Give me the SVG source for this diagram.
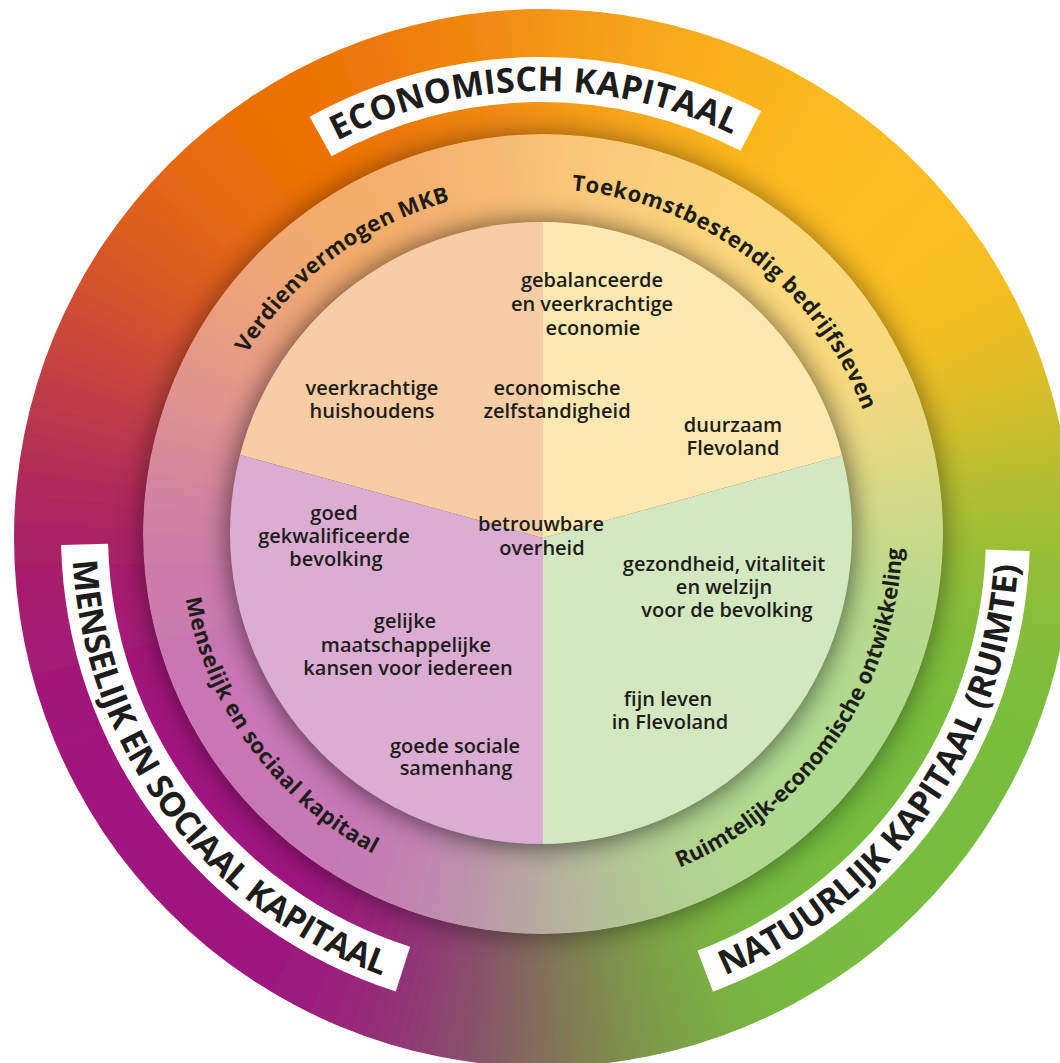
<svg xmlns="http://www.w3.org/2000/svg" width="1060" height="1063" viewBox="0 0 1060 1063">
<defs>
<style>
.t{font-family:"Open Sans","Noto Sans",sans-serif;font-weight:600;font-size:20px;fill:#1d1d1b;text-anchor:middle}
.rl{font-family:"Open Sans","Noto Sans",sans-serif;font-weight:700;font-size:22px;fill:#1d1d1b;text-anchor:middle}
.cap{font-family:"Open Sans","Noto Sans",sans-serif;font-weight:700;font-size:34px;fill:#1d1d1b;text-anchor:middle}
.box{fill:#ffffff}
</style>
<filter id="soft" filterUnits="userSpaceOnUse" x="-300" y="-300" width="1660" height="1663"><feGaussianBlur stdDeviation="40"/></filter>
<filter id="sh" filterUnits="userSpaceOnUse" x="-100" y="-100" width="1260" height="1263"><feGaussianBlur stdDeviation="13"/></filter>
<clipPath id="cOuter"><circle cx="543" cy="538" r="529"/></clipPath>
<clipPath id="cMid"><circle cx="543" cy="534" r="400"/></clipPath>
<clipPath id="cIn"><circle cx="541" cy="533" r="311"/></clipPath>
<g id="wedges" transform="translate(542,536)">
<circle r="900" fill="#C07040"/>
<polygon points="0,0 0,-900 117.5,-892.3" fill="#F59B17"/>
<polygon points="0,0 117.5,-892.3 232.9,-869.3" fill="#F7A61A"/>
<polygon points="0,0 232.9,-869.3 344.4,-831.5" fill="#F9AE1D"/>
<polygon points="0,0 344.4,-831.5 450,-779.4" fill="#FBB51F"/>
<polygon points="0,0 450,-779.4 547.9,-714" fill="#FCBA21"/>
<polygon points="0,0 547.9,-714 636.4,-636.4" fill="#FDBE23"/>
<polygon points="0,0 636.4,-636.4 714,-547.9" fill="#FCBF24"/>
<polygon points="0,0 714,-547.9 779.4,-450" fill="#F9BF24"/>
<polygon points="0,0 779.4,-450 831.5,-344.4" fill="#F2BE24"/>
<polygon points="0,0 831.5,-344.4 869.3,-232.9" fill="#E0BD27"/>
<polygon points="0,0 869.3,-232.9 892.3,-117.5" fill="#C3BE2D"/>
<polygon points="0,0 892.3,-117.5 900,0" fill="#A9BE33"/>
<polygon points="0,0 900,0 892.3,117.5" fill="#92BE38"/>
<polygon points="0,0 892.3,117.5 869.3,232.9" fill="#83BE3B"/>
<polygon points="0,0 869.3,232.9 831.5,344.4" fill="#7CBD3D"/>
<polygon points="0,0 831.5,344.4 779.4,450" fill="#78BD3E"/>
<polygon points="0,0 779.4,450 714,547.9" fill="#77BD3F"/>
<polygon points="0,0 714,547.9 636.4,636.4" fill="#76BD3F"/>
<polygon points="0,0 636.4,636.4 547.9,714" fill="#76BD3F"/>
<polygon points="0,0 547.9,714 450,779.4" fill="#77BB3F"/>
<polygon points="0,0 450,779.4 344.4,831.5" fill="#78B83F"/>
<polygon points="0,0 344.4,831.5 232.9,869.3" fill="#7AAB42"/>
<polygon points="0,0 232.9,869.3 117.5,892.3" fill="#7D9548"/>
<polygon points="0,0 117.5,892.3 0,900" fill="#817C53"/>
<polygon points="0,0 0,900 -117.5,892.3" fill="#845F62"/>
<polygon points="0,0 -117.5,892.3 -232.9,869.3" fill="#8A436F"/>
<polygon points="0,0 -232.9,869.3 -344.4,831.5" fill="#952A78"/>
<polygon points="0,0 -344.4,831.5 -450,779.4" fill="#9B1C7D"/>
<polygon points="0,0 -450,779.4 -547.9,714" fill="#9D197E"/>
<polygon points="0,0 -547.9,714 -636.4,636.4" fill="#9F187F"/>
<polygon points="0,0 -636.4,636.4 -714,547.9" fill="#A0187F"/>
<polygon points="0,0 -714,547.9 -779.4,450" fill="#A0187F"/>
<polygon points="0,0 -779.4,450 -831.5,344.4" fill="#A1187E"/>
<polygon points="0,0 -831.5,344.4 -869.3,232.9" fill="#A2197A"/>
<polygon points="0,0 -869.3,232.9 -892.3,117.5" fill="#A41A73"/>
<polygon points="0,0 -892.3,117.5 -900,0" fill="#A81F6A"/>
<polygon points="0,0 -900,0 -892.3,-117.5" fill="#AD275E"/>
<polygon points="0,0 -892.3,-117.5 -869.3,-232.9" fill="#B63251"/>
<polygon points="0,0 -869.3,-232.9 -831.5,-344.4" fill="#C34042"/>
<polygon points="0,0 -831.5,-344.4 -779.4,-450" fill="#CF4D32"/>
<polygon points="0,0 -779.4,-450 -714,-547.9" fill="#DA5921"/>
<polygon points="0,0 -714,-547.9 -636.4,-636.4" fill="#E26313"/>
<polygon points="0,0 -636.4,-636.4 -547.9,-714" fill="#E86C0A"/>
<polygon points="0,0 -547.9,-714 -450,-779.4" fill="#EB7105"/>
<polygon points="0,0 -450,-779.4 -344.4,-831.5" fill="#EC7305"/>
<polygon points="0,0 -344.4,-831.5 -232.9,-869.3" fill="#ED7908"/>
<polygon points="0,0 -232.9,-869.3 -117.5,-892.3" fill="#EF820D"/>
<polygon points="0,0 -117.5,-892.3 0,-900" fill="#F28E12"/>
</g>
<path id="pEcon" d="M-443,0 A443,443 0 0 1 443,0"/>
<path id="pMens" d="M-406.2,-234.5 A469,469 0 0 0 234.5,406.2"/>
<path id="pNat" d="M-239,414 A478,478 0 0 0 414,-239"/>
<path id="pTop" d="M-345,0 A345,345 0 0 1 345,0"/>
<path id="pLeft" d="M-181,-313.5 A362,362 0 0 0 181,313.5"/>
<path id="pRight" d="M-181,313.5 A362,362 0 0 0 181,-313.5"/>
</defs>

<g id="outer-ring" clip-path="url(#cOuter)">
<g filter="url(#soft)"><use href="#wedges"/></g>
<circle cx="543" cy="535" r="402" fill="#000" opacity="0.42" filter="url(#sh)"/>
</g>

<g id="middle-ring" clip-path="url(#cMid)">
<g filter="url(#soft)"><use href="#wedges"/></g>
<circle cx="543" cy="534" r="400" fill="#fff" opacity="0.42"/>
<circle cx="541" cy="534" r="313" fill="#000" opacity="0.55" filter="url(#sh)"/>
</g>

<g id="inner-circle" clip-path="url(#cIn)">
<polygon id="sector-economisch-links" points="543,538 543,200 200,200 200,444" fill="#F8CDA5"/>
<polygon id="sector-economisch-rechts" points="543,538 543,200 880,200 880,445" fill="#FEE8B1"/>
<polygon id="sector-menselijk" points="543,538 200,444 200,880 543,880" fill="#DCADD2"/>
<polygon id="sector-natuurlijk" points="543,538 880,445 880,880 543,880" fill="#D3E8C1"/>
</g>

<g id="labels" transform="translate(541,534)">
<g id="label-economisch">
<path class="box" d="M-231.3,-417.2 A477,477 0 0 1 220.2,-423.1 L199.5,-383.2 A432,432 0 0 0 -209.4,-377.8 Z"/>
<text class="cap"><textPath href="#pEcon" startOffset="49.5%" textLength="410" lengthAdjust="spacing">ECONOMISCH KAPITAAL</textPath></text>
</g>
<g id="label-menselijk">
<path class="box" d="M-479.9,10.9 A480,480 0 0 0 -145.2,457.5 L-130.9,412.7 A433,433 0 0 1 -432.9,9.8 Z"/>
<text class="cap"><textPath href="#pMens" startOffset="44.5%" textLength="548" lengthAdjust="spacing">MENSELIJK EN SOCIAAL KAPITAAL</textPath></text>
</g>
<g id="label-natuurlijk">
<path class="box" d="M488.7,17.1 A489,489 0 0 1 172,457.8 L156.5,416.6 A445,445 0 0 0 444.7,15.5 Z"/>
<text class="cap"><textPath href="#pNat" startOffset="56.3%" textLength="531" lengthAdjust="spacing">NATUURLIJK KAPITAAL (RUIMTE)</textPath></text>
</g>
<g id="ring-verdienvermogen"><text class="rl"><textPath href="#pTop" startOffset="29.5%" textLength="260" lengthAdjust="spacing">Verdienvermogen MKB</textPath></text></g>
<g id="ring-toekomst"><text class="rl"><textPath href="#pTop" startOffset="70.6%" textLength="385" lengthAdjust="spacing">Toekomstbestendig bedrijfsleven</textPath></text></g>
<g id="ring-menselijk"><text class="rl"><textPath href="#pLeft" startOffset="53.5%" textLength="328" lengthAdjust="spacing">Menselijk en sociaal kapitaal</textPath></text></g>
<g id="ring-ruimtelijk"><text class="rl"><textPath href="#pRight" startOffset="47.3%" textLength="411" lengthAdjust="spacing">Ruimtelijk-economische ontwikkeling</textPath></text></g>
</g>

<g id="inner-texts">
<g id="t-gebalanceerde"><text class="t" x="592" y="287">gebalanceerde</text><text class="t" x="592" y="311">en veerkrachtige</text><text class="t" x="593" y="335">economie</text></g>
<g id="t-huishoudens"><text class="t" x="372" y="395">veerkrachtige</text><text class="t" x="372" y="418">huishoudens</text></g>
<g id="t-zelfstandigheid"><text class="t" x="557" y="395">economische</text><text class="t" x="557" y="418">zelfstandigheid</text></g>
<g id="t-duurzaam"><text class="t" x="733" y="432">duurzaam</text><text class="t" x="733" y="455">Flevoland</text></g>
<g id="t-bevolking"><text class="t" x="334" y="520">goed</text><text class="t" x="334" y="543">gekwalificeerde</text><text class="t" x="336" y="566">bevolking</text></g>
<g id="t-overheid"><text class="t" x="541" y="531">betrouwbare</text><text class="t" x="542" y="555">overheid</text></g>
<g id="t-gezondheid"><text class="t" x="724" y="571">gezondheid, vitaliteit</text><text class="t" x="724" y="594">en welzijn</text><text class="t" x="727" y="617">voor de bevolking</text></g>
<g id="t-kansen"><text class="t" x="405" y="628">gelijke</text><text class="t" x="406" y="652">maatschappelijke</text><text class="t" x="408" y="675">kansen voor iedereen</text></g>
<g id="t-fijn"><text class="t" x="668" y="706">fijn leven</text><text class="t" x="670" y="729">in Flevoland</text></g>
<g id="t-samenhang"><text class="t" x="455" y="753">goede sociale</text><text class="t" x="456" y="775">samenhang</text></g>
</g>
</svg>
